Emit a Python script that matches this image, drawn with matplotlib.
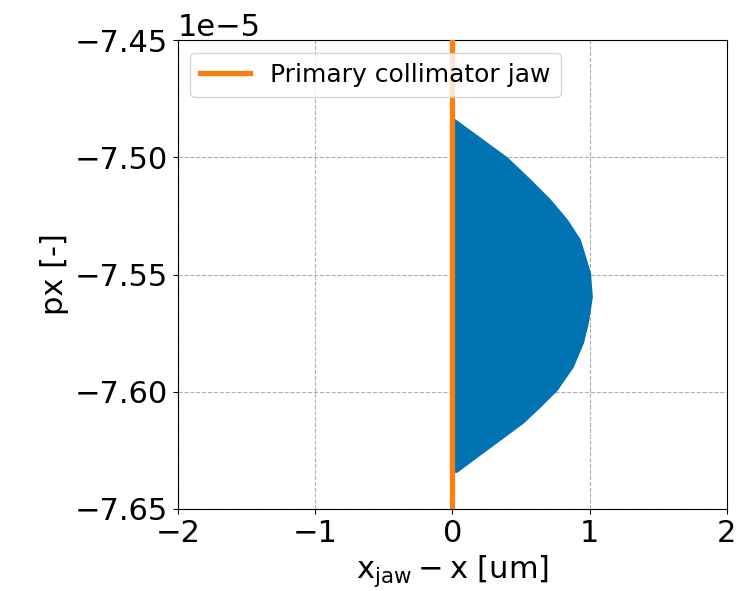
import matplotlib
matplotlib.use("Agg")
import matplotlib.pyplot as plt
import numpy as np

# Boundary of the particle cloud (x in um, px in units of 1e-5)
edge_px = [-7.4841, -7.4897, -7.5003, -7.5097, -7.5182, -7.5268, -7.5353, -7.5494,
           -7.5596, -7.5707, -7.5792, -7.5894, -7.5993, -7.6065, -7.6133, -7.6206,
           -7.6291, -7.6342]
edge_x = [0.018, 0.149, 0.397, 0.565, 0.710, 0.834, 0.929, 1.002,
          1.016, 0.987, 0.951, 0.878, 0.761, 0.638, 0.514, 0.346,
          0.149, 0.033]

jaw_x = 0.0
xticks = [-2, -1, 0, 1, 2]
yticks = [-7.65, -7.60, -7.55, -7.50, -7.45]

blue = '#0173b2'
orange = '#ff7f0e'

fig = plt.figure(figsize=(7.54, 5.91), dpi=100)
ax = fig.add_axes([0.236, 0.139, 0.728, 0.793])

ey = np.array(edge_px) * 1e-5
ex = np.array(edge_x)
poly_x = np.concatenate([[0.0], ex, [0.0]])
poly_y = np.concatenate([[ey[0]], ey, [ey[-1]]])
ax.fill(poly_x, poly_y, facecolor=blue, edgecolor=blue, lw=1.5,
        joinstyle='round', zorder=2)

ax.axvline(jaw_x, color=orange, lw=3.8, label='Primary collimator jaw', zorder=3)

ax.set_xlim(-2, 2)
ax.set_ylim(-7.65e-5, -7.45e-5)
ax.set_xticks(xticks)
ax.set_yticks(np.array(yticks) * 1e-5)
ax.tick_params(labelsize=22)
ax.yaxis.get_offset_text().set_fontsize(22)
ax.grid(True, linestyle='--', color='#b0b0b0', lw=0.8, zorder=0)
ax.set_axisbelow(True)
ax.set_xlabel(r'$\mathrm{x_{jaw} - x}$ [um]', fontsize=22)
ax.set_ylabel('px [-]', fontsize=22)
ax.legend(loc='upper left', fontsize=18)

fig.savefig('out.png', dpi=100)
